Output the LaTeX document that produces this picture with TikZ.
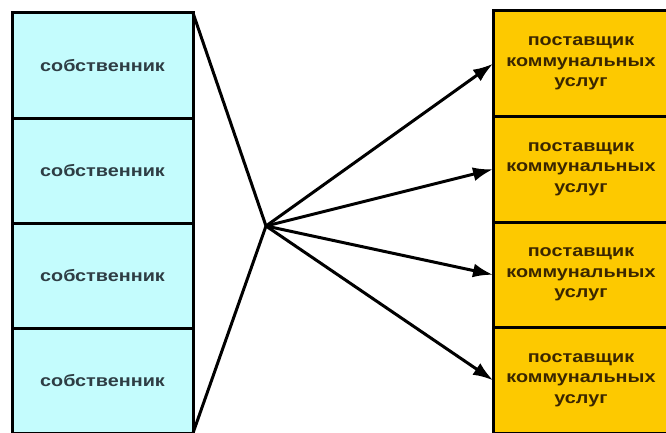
\documentclass[tikz,border=0pt]{standalone}
\usepackage{fontspec}
\newfontfamily\boxfont[FakeStretch=1.2]{Liberation Sans}
\usetikzlibrary{positioning,arrows.meta}
\definecolor{OwnCyan}{HTML}{C4FCFD}
\definecolor{OwnText}{HTML}{2E3D44}
\definecolor{SupGold}{HTML}{FDC900}
\definecolor{SupText}{HTML}{3A2600}

\begin{document}
\begin{tikzpicture}[x=1pt,y=1pt]
  \useasboundingbox (0,0) rectangle (666,432);
  \tikzset{
    ownbox/.style={draw=black, line width=3pt, fill=OwnCyan, text=OwnText, outer sep=0pt,
      minimum width=181pt, minimum height=105pt, font=\boxfont\fontsize{16.5}{19}\selectfont\bfseries},
    supbox/.style={draw=black, line width=3pt, fill=SupGold, text=SupText, outer sep=0pt,
      minimum width=176pt, minimum height=105.5pt, align=center,
      font=\boxfont\fontsize{16.5}{20.5}\selectfont\bfseries},
    link/.style={line width=3pt, black},
    feed/.style={link, -{Latex[length=20pt,width=14pt]}}
  }
  % owners on the left
  \node[ownbox, anchor=north west] (own1) at (12,419) {собственник};
  \node[ownbox, below=0pt of own1] (own2) {собственник};
  \node[ownbox, below=0pt of own2] (own3) {собственник};
  \node[ownbox, below=0pt of own3] (own4) {собственник};
  % suppliers on the right
  \node[supbox, anchor=north west] (sup1) at (493,421) {поставщик\\коммунальных\\услуг};
  \node[supbox, below=0pt of sup1] (sup2) {поставщик\\коммунальных\\услуг};
  \node[supbox, below=0pt of sup2] (sup3) {поставщик\\коммунальных\\услуг};
  \node[supbox, below=0pt of sup3] (sup4) {поставщик\\коммунальных\\услуг};
  \coordinate (hub) at (266,206);
  \draw[link] (own1.north east) -- (hub);
  \draw[link] (own4.south east) -- (hub);
  \foreach \i in {1,...,4}
    \draw[feed] (hub) -- (sup\i.west);
\end{tikzpicture}
\end{document}
